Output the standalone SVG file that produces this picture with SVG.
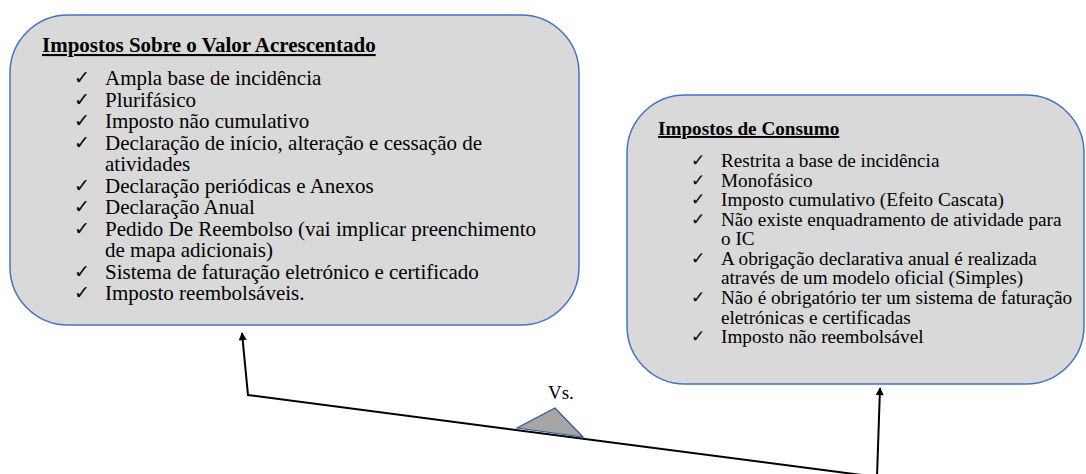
<svg xmlns="http://www.w3.org/2000/svg" width="1086" height="474" viewBox="0 0 1086 474">
<style>
.box{fill:#D9D9D9;stroke:#4472C4;stroke-width:1.5}
.t{font-family:"Liberation Serif","Times New Roman",serif;fill:#000}
.ttl{font-weight:bold;text-decoration:underline}
.l{font-size:21px}
.r{font-size:19.2px}
.ck{font-family:"DejaVu Sans",sans-serif;fill:#000}
.conn{fill:none;stroke:#000;stroke-width:2}
</style>
<defs>
<marker id="ah" viewBox="0 0 10 10" refX="9" refY="5" markerWidth="9" markerHeight="8" markerUnits="userSpaceOnUse" orient="auto-start-reverse">
<path d="M0,0 L10,5 L0,10 Z" fill="#000"/>
</marker>
</defs>
<rect width="1086" height="474" fill="#fff"/>
<g id="iva">
<rect class="box" x="10" y="15" width="569" height="310" rx="58" ry="58"/>
<text class="t ttl l" x="42" y="52">Impostos Sobre o Valor Acrescentado</text>
<g class="ck" font-size="19">
<text x="74" y="84">✓</text><text x="74" y="105.5">✓</text><text x="74" y="127">✓</text><text x="74" y="148.5">✓</text><text x="74" y="191.5">✓</text><text x="74" y="213">✓</text><text x="74" y="234.5">✓</text><text x="74" y="277.5">✓</text><text x="74" y="299">✓</text>
</g>
<g class="t l">
<text x="105" y="85">Ampla base de incidência</text>
<text x="105" y="106.5">Plurifásico</text>
<text x="105" y="128">Imposto não cumulativo</text>
<text x="105" y="149.5">Declaração de início, alteração e cessação de</text>
<text x="105" y="171">atividades</text>
<text x="105" y="192.5">Declaração periódicas e Anexos</text>
<text x="105" y="214">Declaração Anual</text>
<text x="105" y="235.5">Pedido De Reembolso (vai implicar preenchimento</text>
<text x="105" y="257">de mapa adicionais)</text>
<text x="105" y="278.5">Sistema de faturação eletrónico e certificado</text>
<text x="105" y="300">Imposto reembolsáveis.</text>
</g>
</g>
<g id="ic">
<rect class="box" x="627" y="95" width="457" height="289" rx="58" ry="58"/>
<text class="t ttl r" x="658" y="135">Impostos de Consumo</text>
<g class="ck" font-size="17">
<text x="691" y="166">✓</text><text x="691" y="185.6">✓</text><text x="691" y="205.1">✓</text><text x="691" y="224.7">✓</text><text x="691" y="263.8">✓</text><text x="691" y="302.9">✓</text><text x="691" y="342">✓</text>
</g>
<g class="t r">
<text x="721" y="167">Restrita a base de incidência</text>
<text x="721" y="186.6">Monofásico</text>
<text x="721" y="206.1">Imposto cumulativo (Efeito Cascata)</text>
<text x="721" y="225.7">Não existe enquadramento de atividade para</text>
<text x="721" y="245.2">o IC</text>
<text x="721" y="264.8">A obrigação declarativa anual é realizada</text>
<text x="721" y="284.4">através de um modelo oficial (Simples)</text>
<text x="721" y="303.9">Não é obrigatório ter um sistema de faturação</text>
<text x="721" y="323.5">eletrónicas e certificadas</text>
<text x="721" y="343">Imposto não reembolsável</text>
</g>
</g>
<g id="connectors">
<path class="conn" d="M242,333 L248,395 L877,477 L880,388" marker-start="url(#ah)" marker-end="url(#ah)"/>
</g>
<g id="fulcrum">
<polygon points="517,428 555,408 583,437" fill="#A6A6A6" stroke="#2F5597" stroke-width="1.2"/>
<text class="t" x="548" y="399" font-size="19">Vs.</text>
</g>
</svg>
